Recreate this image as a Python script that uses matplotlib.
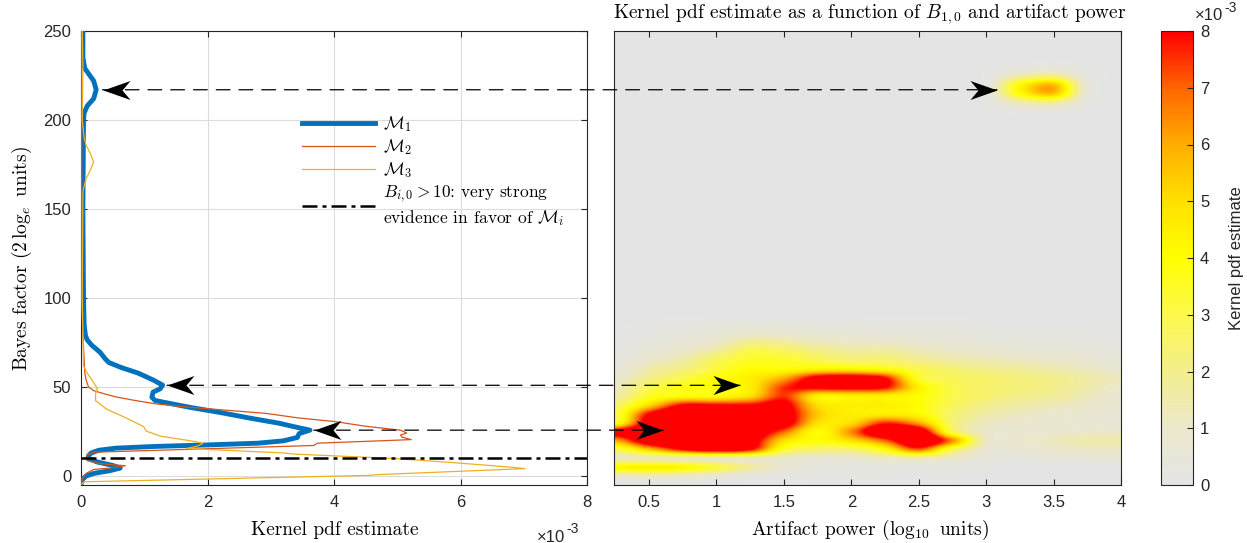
import matplotlib
matplotlib.use("Agg")
import matplotlib.pyplot as plt
import numpy as np
from matplotlib.colors import LinearSegmentedColormap
from matplotlib.lines import Line2D
from matplotlib.patches import ConnectionPatch
from matplotlib.path import Path

plt.rcParams["font.family"] = ["Liberation Sans", "DejaVu Sans"]
plt.rcParams["mathtext.fontset"] = "cm"
SERIF = "cmr10"
INK = "#262626"

# ---- left panel: kernel pdf (x1e-3) against Bayes factor ----
M1_BF = [250, 235, 229, 226, 222, 217, 212, 208, 204, 200, 150, 100, 85, 79, 76.4, 73.5,
         69.6, 66, 63.8, 60.8, 57.9, 54, 51.1, 49, 47.2, 44.3, 42.5, 41.4, 38.5, 35.6, 32.7,
         29.7, 27.5, 25.8, 23.9, 21.7, 19.8, 18.5, 17.5, 16.7, 15.7, 14.5, 13, 11.5, 10, 8,
         6, 4.5, 3, 1.5, 0, -2, -5]
M1_PDF = [0.03, 0.03, 0.06, 0.12, 0.2, 0.24, 0.2, 0.1, 0.05, 0.04, 0.03, 0.04, 0.05, 0.07,
          0.1, 0.17, 0.3, 0.38, 0.44, 0.65, 0.9, 1.14, 1.29, 1.25, 1.14, 1.12, 1.17, 1.32,
          1.74, 2.22, 2.65, 3.13, 3.4, 3.62, 3.45, 3.42, 3.2, 2.8, 2.0, 1.2, 0.55, 0.28, 0.16,
          0.12, 0.11, 0.25, 0.5, 0.62, 0.45, 0.2, 0.08, 0.02, 0.0]

M2_BF = [250, 100, 72, 58, 54, 50, 48, 46.3, 44.5, 42.5, 40.5, 39, 37, 35.2, 32.7, 30.6, 28,
         25.8, 24.2, 23, 21.8, 20.5, 19.5, 18.5, 17.2, 13.4, 12, 10.5, 8.6, 7, 5.8, 4.5, 3.7,
         1.5, -1, -5]
M2_PDF = [0.01, 0.01, 0.04, 0.06, 0.08, 0.12, 0.2, 0.36, 0.55, 0.85, 1.2, 1.6, 2.3, 2.93,
          3.43, 4.02, 4.5, 5.05, 5.15, 5.05, 5.08, 5.22, 4.5, 3.74, 3.68, 0.19, 0.1, 0.08,
          0.1, 0.3, 0.7, 0.45, 0.2, 0.08, 0.03, 0.0]

M3_BF = [250, 230, 200, 190, 186, 181, 176.5, 172, 167, 160, 100, 62, 59, 54, 49.2, 46.3,
         42.4, 37.5, 32.7, 27.8, 25.3, 22.5, 20, 18.5, 17, 15.5, 13, 12.3, 9.9, 7.4, 5, 4.2,
         0.8, 0.4, -3.2, -5]
M3_PDF = [0.02, 0.03, 0.02, 0.05, 0.08, 0.15, 0.2, 0.15, 0.08, 0.03, 0.02, 0.04, 0.08, 0.17,
          0.26, 0.23, 0.23, 0.41, 0.71, 0.99, 1.03, 1.25, 1.7, 1.93, 1.85, 1.67, 3.2, 3.4,
          4.95, 5.95, 6.8, 7.02, 4.67, 4.56, 0.05, 0.0]

EVIDENCE_BF = 10

# ---- right panel: kernel pdf (x1e-3) on artifact power x Bayes factor grid ----
POWER = [0.25, 0.5, 0.75, 1.0, 1.25, 1.5, 1.75, 2.0, 2.25, 2.5, 2.75, 3.0, 3.25, 3.5, 3.75, 4.0]
BF_ROWS = list(range(-5, 255, 5))

BF_LOW = list(range(-5, 90, 5))
PDF_LOW = [
    [0, 0, 0, 0, 0, 0, 0, 0, 0, 0, 0, 0, 0, 0, 0, 0],
    [1.0, 1.2, 1.0, 0.7, 0.3, 0.2, 0.1, 0.1, 0.1, 0.1, 0.1, 0, 0, 0, 0, 0],
    [4.2, 4.5, 4.2, 3.2, 1.8, 0.8, 0.3, 0.2, 0.2, 0.2, 0.2, 0.1, 0.1, 0.1, 0.1, 0.1],
    [1.2, 1.3, 1.3, 1.3, 1.3, 1.0, 0.7, 0.8, 1.2, 1.5, 1.0, 0.4, 0.3, 0.4, 0.5, 0.5],
    [3.0, 5.5, 8, 9, 8, 3.5, 2.5, 2.5, 4, 7, 3, 0.8, 0.7, 0.9, 1.1, 1.1],
    [6, 9.5, 10, 10, 9, 5, 4, 5, 7, 10, 6.5, 1.2, 1.0, 1.2, 1.5, 1.5],
    [8.5, 10, 10, 10, 9.5, 7, 4, 6.5, 10, 9.5, 3, 1.0, 0.8, 0.9, 1.0, 1.0],
    [3.5, 9, 10, 10, 10, 9, 5, 5, 7.5, 6, 2.5, 1.2, 0.9, 0.8, 0.7, 0.6],
    [3, 8, 10, 10, 10, 9, 5.5, 4.5, 4.5, 4.2, 2.5, 1.6, 1.2, 1.0, 0.8, 0.6],
    [2.5, 5, 8, 8, 8, 8.5, 5, 4.5, 4.5, 4, 2.8, 2, 1.6, 1.3, 1.0, 0.7],
    [1.5, 3.5, 4, 4, 5, 7.5, 4.5, 4.5, 4.5, 4, 3, 2.5, 2, 1.8, 1.3, 0.8],
    [1.2, 2.8, 3.8, 4, 4.5, 7.5, 8.3, 8.5, 8, 4.5, 3, 2.5, 2.3, 2, 1.5, 1.0],
    [0.8, 2, 3, 4, 4.5, 6, 8.6, 9, 8, 3.5, 2.8, 2.5, 2.2, 2, 1.6, 1.2],
    [0.5, 1.5, 2.2, 3.2, 4, 4, 4.5, 4.5, 4, 3, 2.4, 2, 1.8, 1.5, 1.2, 0.8],
    [0.3, 1.0, 1.6, 2.8, 3.5, 3.5, 3, 2.5, 2.5, 2, 1.6, 1.4, 1.2, 1, 0.8, 0.5],
    [0.2, 0.6, 1.0, 1.8, 3, 2.8, 2.2, 1.8, 1.8, 1.4, 1.1, 0.9, 0.7, 0.6, 0.5, 0.3],
    [0.1, 0.4, 0.6, 1.0, 2, 1.8, 1.3, 1.1, 1, 0.8, 0.6, 0.5, 0.4, 0.3, 0.3, 0.2],
    [0, 0.2, 0.4, 0.6, 0.9, 0.8, 0.7, 0.6, 0.5, 0.4, 0.4, 0.3, 0.2, 0.2, 0.2, 0.1],
    [0, 0.1, 0.2, 0.3, 0.4, 0.4, 0.3, 0.3, 0.2, 0.2, 0.2, 0.1, 0.1, 0.1, 0.1, 0],
]
BF_HIGH = [205, 210, 215, 220, 225, 230]
PDF_HIGH = [
    [0, 0, 0, 0, 0, 0, 0, 0, 0, 0, 0, 0, 0.2, 0.3, 0.05, 0],
    [0, 0, 0, 0, 0, 0, 0, 0, 0, 0, 0, 0.1, 1.5, 2.0, 0.3, 0],
    [0, 0, 0, 0, 0, 0, 0, 0, 0, 0, 0, 0.2, 4.0, 5.6, 0.6, 0],
    [0, 0, 0, 0, 0, 0, 0, 0, 0, 0, 0, 0.2, 4.0, 5.6, 0.6, 0],
    [0, 0, 0, 0, 0, 0, 0, 0, 0, 0, 0, 0.1, 1.5, 2.0, 0.3, 0],
    [0, 0, 0, 0, 0, 0, 0, 0, 0, 0, 0, 0, 0.2, 0.3, 0.05, 0],
]

# arrows linking curve features to heatmap features
ARROW_BF = [217, 51, 25.8]
ARROW_LEFT_PDF = [0.34, 1.36, 3.68]
ARROW_RIGHT_POWER = [3.08, 1.175, 0.606]

CMAP_COLORS = [
    (0.898, 0.898, 0.898), (0.925, 0.91, 0.80), (0.955, 0.935, 0.55), (0.99, 0.975, 0.3),
    (1.0, 1.0, 0.0), (1.0, 0.88, 0.0), (1.0, 0.68, 0.0), (1.0, 0.40, 0.0), (1.0, 0.0, 0.0),
]

W, H = 1247, 543


def px_box(x0, y0, x1, y1):
    return [x0 / W, 1 - y1 / H, (x1 - x0) / W, (y1 - y0) / H]


def style_ticks(ax):
    ax.tick_params(direction="in", length=4, width=0.8, colors=INK, labelsize=12, pad=7)
    for s in ax.spines.values():
        s.set_color(INK)
        s.set_linewidth(0.8)


fig = plt.figure(figsize=(W / 100, H / 100), dpi=100)
ax1 = fig.add_axes(px_box(81, 31, 587, 485))
ax2 = fig.add_axes(px_box(614, 31, 1121, 485))
cax = fig.add_axes(px_box(1161, 31, 1193, 485))

# left panel
blue, orange, yellow = (0, 0.447, 0.741), (0.85, 0.325, 0.098), (0.929, 0.694, 0.125)
ax1.plot(M1_PDF, M1_BF, color=blue, lw=3.5, solid_joinstyle="round", zorder=3)
ax1.plot(M2_PDF, M2_BF, color=orange, lw=0.9, zorder=4)
ax1.plot(M3_PDF, M3_BF, color=yellow, lw=0.9, zorder=4)
dashdot = (0, (6, 2, 1.6, 2))
ax1.axhline(EVIDENCE_BF, color="k", lw=1.8, linestyle=dashdot, zorder=5)
ax1.set_xlim(0, 8)
ax1.set_ylim(-5, 250)
ax1.set_xticks([0, 2, 4, 6, 8])
ax1.set_yticks(range(0, 251, 50))
ax1.grid(True, color="#dcdcdc", lw=0.8)
ax1.set_axisbelow(True)
ax1.tick_params(top=True, right=True)
style_ticks(ax1)

handles = [
    Line2D([], [], color=blue, lw=3.5),
    Line2D([], [], color=orange, lw=0.9),
    Line2D([], [], color=yellow, lw=0.9),
    Line2D([], [], color="k", lw=1.8, linestyle=dashdot),
]
labels = [r"$\mathcal{M}_1$", r"$\mathcal{M}_2$", r"$\mathcal{M}_3$",
          r"$B_{i,0} > 10$: very strong" + "\n" + r"evidence in favor of $\mathcal{M}_i$"]
ax1.legend(handles, labels, loc="upper left", bbox_to_anchor=(0.437, 0.816), frameon=False,
           prop={"family": SERIF, "size": 12.5}, handlelength=4.2, handletextpad=0.46,
           labelspacing=0.17, borderpad=0, borderaxespad=0)

# right panel heatmap
grid = np.zeros((len(BF_ROWS), len(POWER)))
for bf, row in list(zip(BF_LOW, PDF_LOW)) + list(zip(BF_HIGH, PDF_HIGH)):
    grid[BF_ROWS.index(bf)] = row
cmap = LinearSegmentedColormap.from_list("grey_yellow_red", CMAP_COLORS)
dx = POWER[1] - POWER[0]
dy = BF_ROWS[1] - BF_ROWS[0]
im = ax2.imshow(grid, origin="lower", aspect="auto", cmap=cmap, vmin=0, vmax=8,
                extent=(POWER[0] - dx / 2, POWER[-1] + dx / 2,
                        BF_ROWS[0] - dy / 2, BF_ROWS[-1] + dy / 2),
                interpolation="catrom", interpolation_stage="data")
ax2.set_xlim(0.24, 4.0)
ax2.set_ylim(-5, 250)
ax2.set_xticks([0.5, 1, 1.5, 2, 2.5, 3, 3.5, 4])
ax2.set_xticklabels(["0.5", "1", "1.5", "2", "2.5", "3", "3.5", "4"])
ax2.set_yticks([])
ax2.tick_params(top=True)
style_ticks(ax2)

cb = fig.colorbar(im, cax=cax, ticks=range(0, 9))
cb.outline.set_edgecolor(INK)
cb.outline.set_linewidth(0.8)
cax.tick_params(direction="in", length=4, width=0.8, colors=INK, labelsize=12, pad=5)
cax.set_ylabel("Kernel pdf estimate", fontsize=12, color=INK, labelpad=14)

# arrows: dashed line across both panels with swept heads at each end
head_left = Path([(0, 0), (27, 9.5), (19, 0), (27, -9.5), (0, 0)],
                 [Path.MOVETO, Path.LINETO, Path.LINETO, Path.LINETO, Path.CLOSEPOLY])
head_right = Path(head_left.vertices * np.array([-1, 1]), head_left.codes)
for bf, xl, xr in zip(ARROW_BF, ARROW_LEFT_PDF, ARROW_RIGHT_POWER):
    con = ConnectionPatch(xyA=(xl, bf), coordsA=ax1.transData, xyB=(xr, bf),
                          coordsB=ax2.transData, color="k", lw=0.9,
                          linestyle=(0, (11, 7.2)))
    fig.add_artist(con)
    ax1.plot([xl], [bf], marker=head_left, markersize=38.9, color="k", mew=0,
             clip_on=False, zorder=6)
    ax2.plot([xr], [bf], marker=head_right, markersize=38.9, color="k", mew=0,
             clip_on=False, zorder=6)

# text
fig.text(335 / W, 1 - 530 / H, "Kernel pdf estimate", family=SERIF, size=14,
         ha="center", va="center")
fig.text(870 / W, 1 - 530 / H, r"Artifact power ($\log_{10}$ units)", family=SERIF, size=14,
         ha="center", va="center")
fig.text(22 / W, 1 - 259 / H, r"Bayes factor ($2\,\log_e$ units)", family=SERIF, size=14,
         rotation=90, ha="center", va="center")
fig.text(870 / W, 1 - 14 / H,
         r"Kernel pdf estimate as a function of $B_{1,0}$ and artifact power",
         family=SERIF, size=14, ha="center", va="center")
for x0, y0 in [(537, 537), (1195, 16)]:
    fig.text(x0 / W, 1 - y0 / H, "\u00d710", size=12, color=INK, ha="left", va="center")
    fig.text((x0 + 29) / W, 1 - (y0 - 8) / H, "-3", size=10, color=INK, ha="left", va="center")

fig.savefig("out.png", dpi=100)
